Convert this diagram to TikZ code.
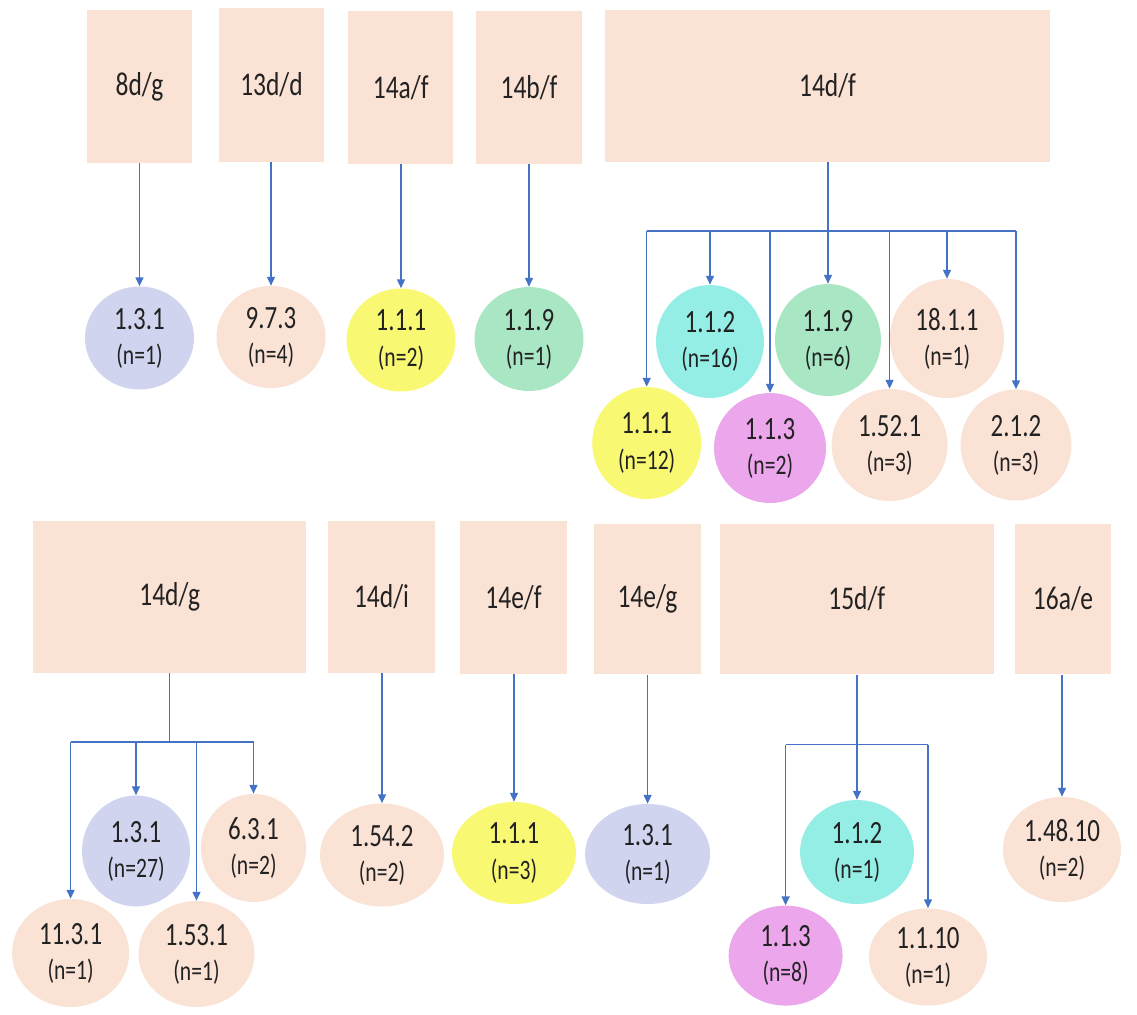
\documentclass[tikz,border=0pt]{standalone}
\usepackage{graphicx}
\usepackage{fontspec}
\setmainfont{Carlito}
\usetikzlibrary{arrows.meta,shapes.geometric}
\definecolor{peach}{HTML}{FAE2D5}
\definecolor{lavender}{HTML}{D0D4EF}
\definecolor{lemon}{HTML}{F9F873}
\definecolor{mint}{HTML}{A8E6C4}
\definecolor{aqua}{HTML}{95EEE6}
\definecolor{orchid}{HTML}{ECA6EB}
\definecolor{linkblue}{HTML}{4472C4}
\definecolor{ink}{HTML}{222222}
\newcommand\tall[1]{\scalebox{1}[1.3]{#1}}
\newcommand\ct[2]{\tall{#1}\\[3.5pt]{\fontsize{12.3}{16}\selectfont\tall{#2}}}
\begin{document}
\begin{tikzpicture}[x=0.02cm,y=-0.02cm,
  box/.style={fill=peach, draw=none, inner sep=0pt, text=ink, font=\fontsize{14.5}{16}\selectfont},
  circ/.style={ellipse, draw=none, inner sep=0pt, align=center, text=ink, font=\fontsize{14.2}{16.5}\selectfont},
  link/.style={draw=linkblue, line width=0.8pt},
  arr/.style={link, -{Triangle[width=4.5pt,length=5pt]}}]
\useasboundingbox[fill=white] (0,0) rectangle (1137,1015);

% top row boxes
\node[box, minimum width=2.10cm, minimum height=3.06cm] (b8dg)  at (139.5,86.5) {\tall{8d/g}};
\node[box, minimum width=2.10cm, minimum height=3.08cm] (b13dd) at (271.5,85) {\tall{13d/d}};
\node[box, minimum width=2.11cm, minimum height=3.06cm] (b14af) at (400.7,87.5) {\tall{14a/f}};
\node[box, minimum width=2.11cm, minimum height=3.06cm] (b14bf) at (529,87.5) {\tall{14b/f}};
\node[box, minimum width=8.92cm, minimum height=3.04cm] (b14df) at (827.5,86) {\tall{14d/f}};

% top row circles
\node[circ, fill=lavender, minimum width=2.18cm, minimum height=2.06cm] (A1) at (139.5,338) {\ct{1.3.1}{(n=1)}};
\node[circ, fill=peach,    minimum width=2.18cm, minimum height=2.04cm] (A2) at (271,337) {\ct{9.7.3}{(n=4)}};
\node[circ, fill=lemon,    minimum width=2.18cm, minimum height=2.06cm] (A3) at (401,340) {\ct{1.1.1}{(n=2)}};
\node[circ, fill=mint,     minimum width=2.18cm, minimum height=2.08cm] (A4) at (529,339) {\ct{1.1.9}{(n=1)}};

\node[circ, fill=aqua,     minimum width=2.16cm, minimum height=2.26cm] (B1) at (710,341.5) {\ct{1.1.2}{(n=16)}};
\node[circ, fill=mint,     minimum width=2.12cm, minimum height=2.24cm] (B2) at (828,340) {\ct{1.1.9}{(n=6)}};
\node[circ, fill=peach,    minimum width=2.28cm, minimum height=2.38cm] (B3) at (947,338.5) {\ct{18.1.1}{(n=1)}};
\node[circ, fill=lemon,    minimum width=2.18cm, minimum height=2.24cm] (B4) at (646.7,443) {\ct{1.1.1}{(n=12)}};
\node[circ, fill=orchid,   minimum width=2.24cm, minimum height=2.20cm] (B5) at (770,448) {\ct{1.1.3}{(n=2)}};
\node[circ, fill=peach,    minimum width=2.32cm, minimum height=2.24cm] (B6) at (889.6,445) {\ct{1.52.1}{(n=3)}};
\node[circ, fill=peach,    minimum width=2.22cm, minimum height=2.22cm] (B7) at (1016,445) {\ct{2.1.2}{(n=3)}};

% bottom row boxes
\node[box, minimum width=5.46cm, minimum height=3.04cm] (b14dg) at (169.7,597) {\tall{14d/g}};
\node[box, minimum width=2.14cm, minimum height=3.04cm] (b14di) at (381.5,597) {\tall{14d/i}};
\node[box, minimum width=2.14cm, minimum height=3.06cm] (b14ef) at (513.5,597.5) {\tall{14e/f}};
\node[box, minimum width=2.14cm, minimum height=3.02cm] (b14eg) at (647.5,599) {\tall{14e/g}};
\node[box, minimum width=5.47cm, minimum height=3.02cm] (b15df) at (856.8,599) {\tall{15d/f}};
\node[box, minimum width=1.92cm, minimum height=3.02cm] (b16ae) at (1063,599) {\tall{16a/e}};

% bottom row circles
\node[circ, fill=lavender, minimum width=2.16cm, minimum height=2.22cm] (C1) at (136,851) {\ct{1.3.1}{(n=27)}};
\node[circ, fill=peach,    minimum width=2.10cm, minimum height=2.16cm] (C2) at (253.5,848) {\ct{6.3.1}{(n=2)}};
\node[circ, fill=peach,    minimum width=2.34cm, minimum height=2.16cm] (C3) at (70.6,953) {\ct{11.3.1}{(n=1)}};
\node[circ, fill=peach,    minimum width=2.32cm, minimum height=2.12cm] (C4) at (196.5,954) {\ct{1.53.1}{(n=1)}};
\node[circ, fill=peach,    minimum width=2.48cm, minimum height=2.06cm] (D1) at (382,855) {\ct{1.54.2}{(n=2)}};
\node[circ, fill=lemon,    minimum width=2.48cm, minimum height=2.04cm] (E1) at (514,853) {\ct{1.1.1}{(n=3)}};
\node[circ, fill=lavender, minimum width=2.50cm, minimum height=2.00cm] (F1) at (647.6,854) {\ct{1.3.1}{(n=1)}};
\node[circ, fill=aqua,     minimum width=2.28cm, minimum height=2.08cm] (G1) at (857,852) {\ct{1.1.2}{(n=1)}};
\node[circ, fill=orchid,   minimum width=2.28cm, minimum height=2.00cm] (G2) at (785.6,955.6) {\ct{1.1.3}{(n=8)}};
\node[circ, fill=peach,    minimum width=2.36cm, minimum height=1.94cm] (G3) at (928,957) {\ct{1.1.10}{(n=1)}};
\node[circ, fill=peach,    minimum width=2.36cm, minimum height=2.10cm] (H1) at (1062,849.5) {\ct{1.48.10}{(n=2)}};

% single connectors
\draw[arr] (A1.north |- b8dg.south)  -- (A1.north);
\draw[arr] (A2.north |- b13dd.south) -- (A2.north);
\draw[arr] (A3.north |- b14af.south) -- (A3.north);
\draw[arr] (A4.north |- b14bf.south) -- (A4.north);
\draw[arr] (D1.north |- b14di.south) -- (D1.north);
\draw[arr] (E1.north |- b14ef.south) -- (E1.north);
\draw[arr] (F1.north |- b14eg.south) -- (F1.north);
\draw[arr] (H1.north |- b16ae.south) -- (H1.north);

% 14d/f fan
\coordinate (busf) at (828,231);
\draw[arr] (B2.north |- b14df.south) -- (B2.north);
\draw[link] (B4.north |- busf) -- (B7.north |- busf);
\foreach \c in {B1,B3,B4,B5,B6,B7} \draw[arr] (\c.north |- busf) -- (\c.north);

% 14d/g fan
\coordinate (busg) at (170,742);
\draw[link] (b14dg.south) -- (b14dg.south |- busg);
\draw[link] (C3.north |- busg) -- (C2.north |- busg);
\foreach \c in {C1,C2,C3,C4} \draw[arr] (\c.north |- busg) -- (\c.north);

% 15d/f fan
\coordinate (bush) at (858,744.7);
\draw[arr] (G1.north |- b15df.south) -- (G1.north);
\draw[link] (G2.north |- bush) -- (G3.north |- bush);
\foreach \c in {G2,G3} \draw[arr] (\c.north |- bush) -- (\c.north);
\end{tikzpicture}
\end{document}
